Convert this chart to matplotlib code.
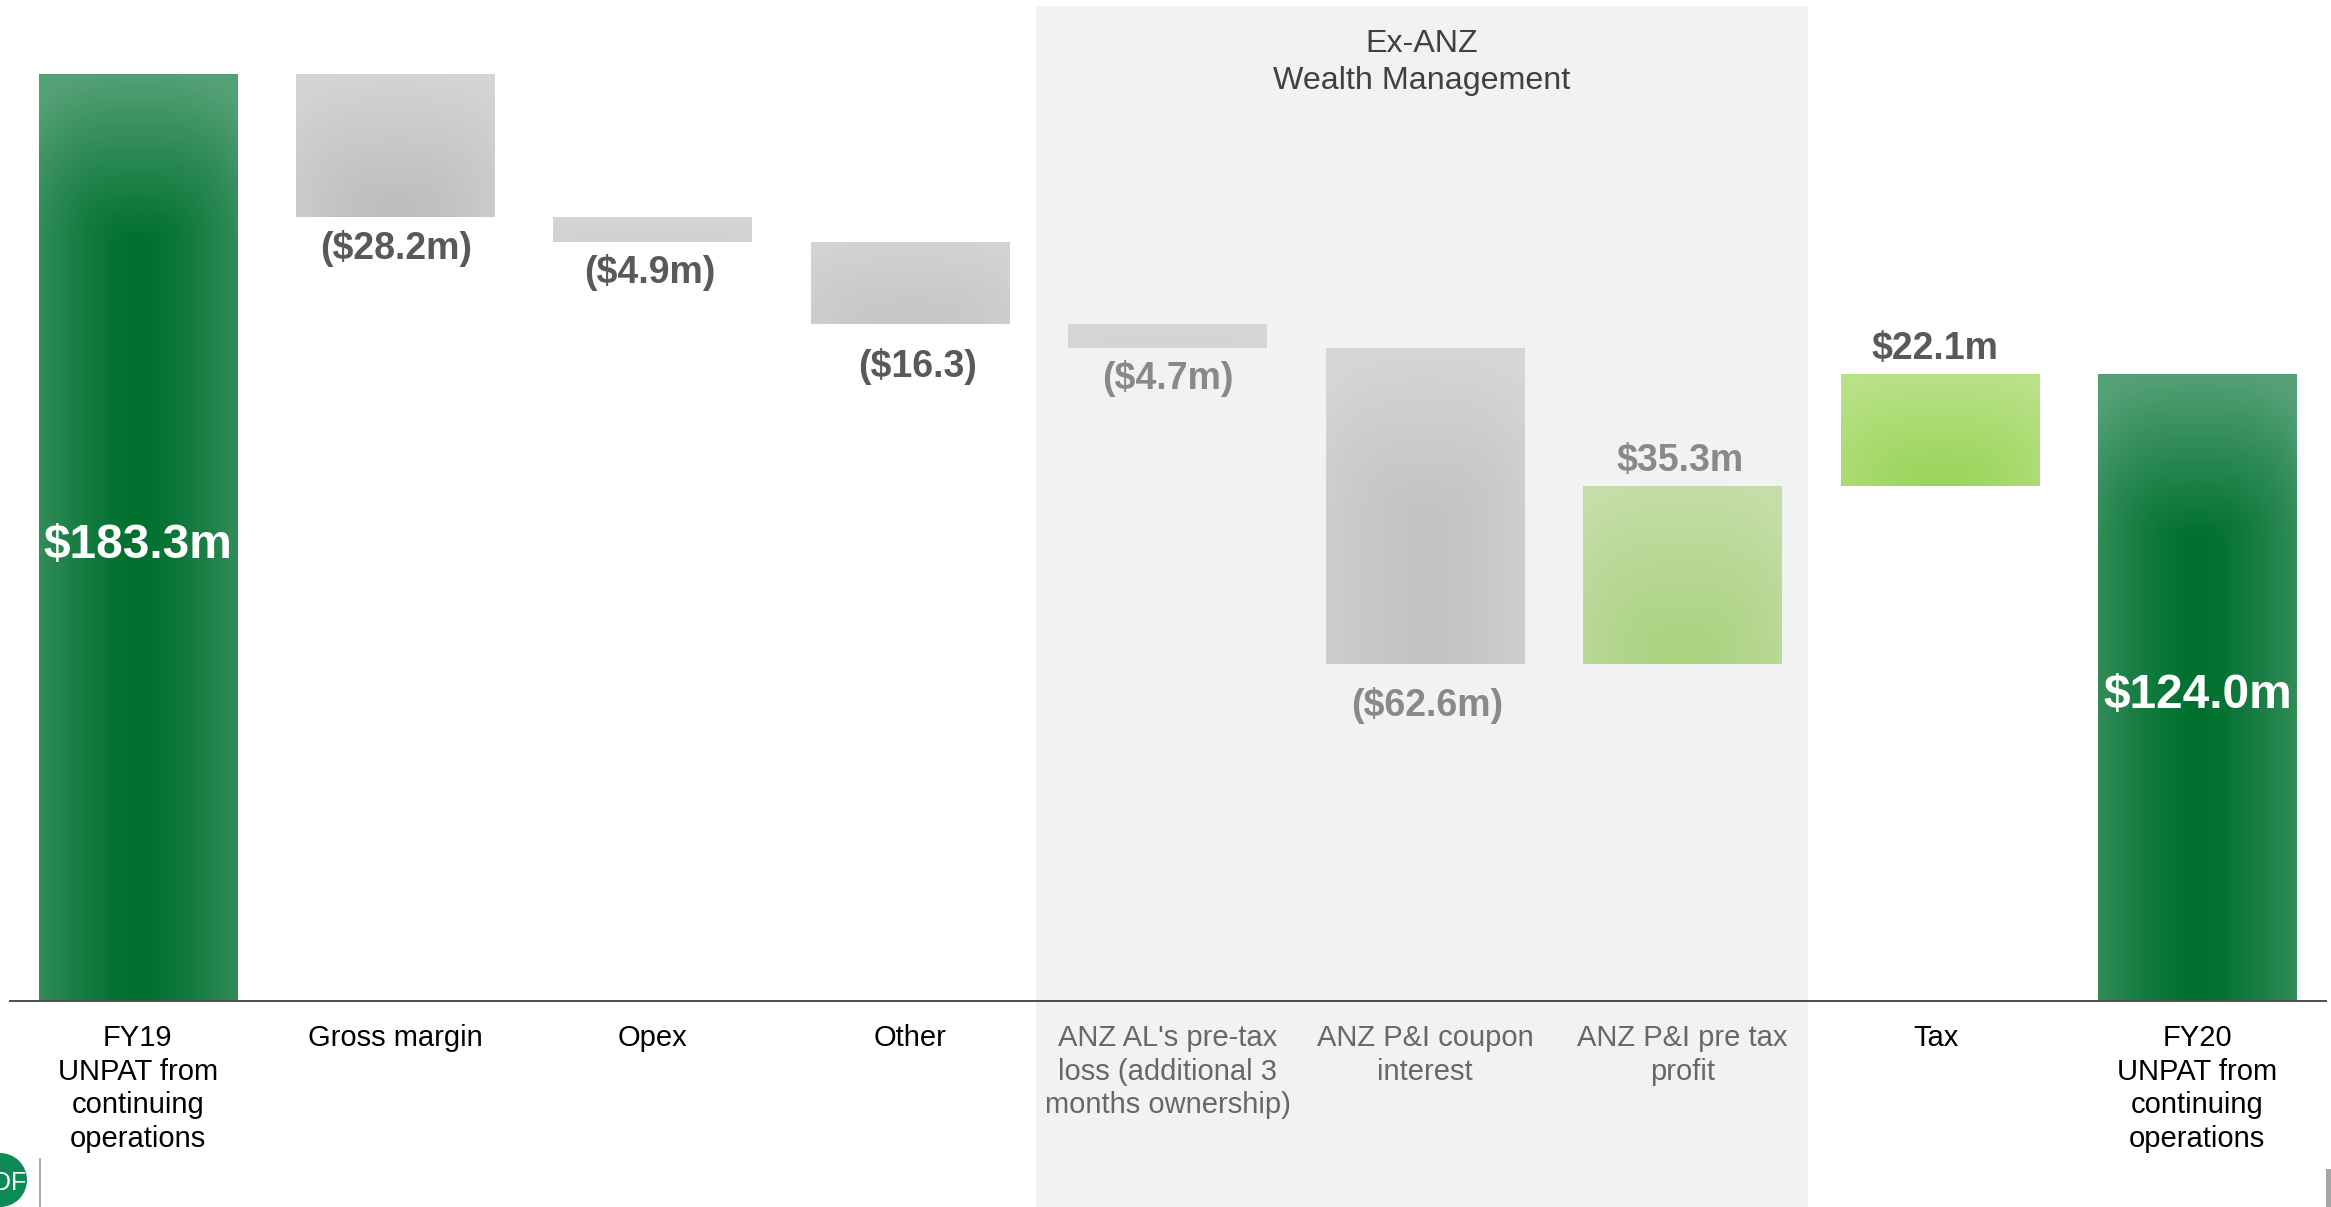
#!/usr/bin/env python3
# -*- coding: utf-8 -*-
"""UNPAT waterfall, FY19 to FY20, with the ex-ANZ wealth management items shaded"""
import numpy as np
import matplotlib
matplotlib.use('Agg')
import matplotlib.pyplot as plt
from matplotlib.colors import to_rgb
from matplotlib.patches import Circle, Rectangle

plt.rcParams['font.family'] = ['Liberation Sans', 'DejaVu Sans']

# data ($m)
categories = ['FY19\nUNPAT from\ncontinuing\noperations', 'Gross margin', 'Opex', 'Other',
              "ANZ AL's pre-tax\nloss (additional 3\nmonths ownership)", 'ANZ P&I coupon\ninterest',
              'ANZ P&I pre tax\nprofit', 'Tax', 'FY20\nUNPAT from\ncontinuing\noperations']
start_total = 183.3
changes = [-28.2, -4.9, -16.3, -4.7, -62.6, 35.3, 22.1]
end_total = 124.0
value_labels = ['$183.3m', '($28.2m)', '($4.9m)', '($16.3)', '($4.7m)', '($62.6m)', '$35.3m', '$22.1m', '$124.0m']

# fill colours per bar: (edge of the shading, centre of the shading)
bar_shades = [('#54A075', '#00702F'), ('#D4D4D4', '#BEBEBE'), ('#D5D5D5', '#D0D0D0'),
              ('#D3D3D3', '#C6C6C6'), ('#D6D7D7', '#D2D3D3'), ('#D5D6D6', '#C3C3C3'),
              ('#C4DEA8', '#AAD27F'), ('#B9E187', '#9BD55C'), ('#54A075', '#00702F')]

# label placement around the bars, in pixels: x shift, y gap from the bar end
label_dx = [0, 1, -3, 8, 0, 2.5, -2.5, -4.5, 1]
label_gap = [0, 31, 30, 42, 30, 41, 25, 26, 0]
category_dx = [0, 0, 0, 0, 0, 0, 0, -4, 0]

W, H = 2331, 1207
BAR_PX = 257.4
X0_PX = 137.6
BASE_PX = 1001
PX_PER_M = 5.052
in_band = [4, 5, 6]


def fx(px):
    return px / W


def fy(px):
    return 1 - px / H


def fill_bar(ax, patch, light, dark):
    """paint a patch with a shade that is darkest low in the middle of the bar"""
    x0, y0 = patch.get_x(), patch.get_y()
    w, h = patch.get_width(), patch.get_height()
    h_px = h * PX_PER_M
    fade = min(0.9 * h_px, 165)
    xx, yy = np.meshgrid(np.linspace(-1, 1, 200), np.linspace(0, h_px, max(int(h_px), 2)))
    v = np.clip((fade - yy) / fade, 0, None)
    d = np.clip(np.sqrt((0.6 * np.abs(xx) ** 1.5) ** 2 + v ** 2), 0, 1)[..., None]
    img = np.array(to_rgb(dark)) + (np.array(to_rgb(light)) - np.array(to_rgb(dark))) * d
    im = ax.imshow(img, extent=(x0, x0 + w, y0, y0 + h), origin='upper', aspect='auto',
                   interpolation='bilinear', zorder=2)
    im.set_clip_path(patch)


# running totals for the floating bars
levels = start_total + np.cumsum(changes)
tops = [start_total] + [max(a, b) for a, b in zip(np.r_[start_total, levels[:-1]], levels)] + [end_total]
bottoms = [0] + [min(a, b) for a, b in zip(np.r_[start_total, levels[:-1]], levels)] + [0]
x = np.arange(len(categories))

fig = plt.figure(figsize=((W + 0.5) / 100, (H + 0.5) / 100), dpi=100)
ax = fig.add_axes([0, 0, 1, 1])
xlim = (-X0_PX / BAR_PX, (W - X0_PX) / BAR_PX)
ylim = ((BASE_PX - H) / PX_PER_M, BASE_PX / PX_PER_M)

# shaded block behind the ex-ANZ items
fig.patches.append(Rectangle((fx(1036), 0), fx(1808) - fx(1036), fy(6), transform=fig.transFigure,
                             facecolor='#F1F3F2', edgecolor='none', zorder=-1))
ax.patch.set_alpha(0)

bars = ax.bar(x, np.subtract(tops, bottoms), bottom=bottoms, width=0.77, color='none', edgecolor='none', zorder=2)
for bar, (light, dark) in zip(bars, bar_shades):
    fill_bar(ax, bar, light, dark)

ax.set_xlim(xlim)
ax.set_ylim(ylim)
ax.axis('off')

# baseline
ax.plot([xlim[0] + 10 / BAR_PX, xlim[1] - 5 / BAR_PX], [0, 0], color='#4D4D4D', linewidth=1.4, zorder=4)

# value labels
for i, label in enumerate(value_labels):
    if i in (0, len(value_labels) - 1):
        ax.annotate(label, (x[i], tops[i] / 2), xytext=(label_dx[i] * 0.72, -5), textcoords='offset points',
                    ha='center', va='center', color='white', fontsize=34.5, fontweight='bold', zorder=5)
        continue
    color = '#888A8A' if i in in_band else '#58595B'
    up = changes[i - 1] > 0
    ref = tops[i] if up else bottoms[i]
    gap = label_gap[i] * 0.72 * (1 if up else -1)
    ax.annotate(label, (x[i], ref), xytext=(label_dx[i] * 0.72, gap), textcoords='offset points',
                ha='center', va='center', color=color, fontsize=27, fontweight='bold', zorder=5)

# category labels under the baseline
for i, label in enumerate(categories):
    color = '#676767' if i in in_band else 'black'
    ax.annotate(label, (x[i], 0), xytext=(category_dx[i] * 0.72, -16.5), textcoords='offset points', ha='center',
                va='top', color=color, fontsize=21, linespacing=1.25, zorder=5)

fig.text(fx(1421), fy(62.5), 'Ex-ANZ\nWealth Management', ha='center', va='center',
         color='#404040', fontsize=23.2, linespacing=1.3)

# page furniture along the bottom edge
fig.patches.append(Circle((0, 1207 - 1180), 27, transform=None, facecolor='#0B8A56', edgecolor='none'))
fig.text(fx(26), fy(1183), 'DF', ha='right', va='center', color='white', fontsize=18)
fig.patches.append(Rectangle((fx(38.5), 0), fx(2), fy(1158), transform=fig.transFigure,
                             facecolor='#ABABAB', edgecolor='none'))
fig.patches.append(Rectangle((fx(2326), 0), fx(5), fy(1169), transform=fig.transFigure,
                             facecolor='#A6A6A6', edgecolor='none'))

fig.savefig('out.png', dpi=100)
